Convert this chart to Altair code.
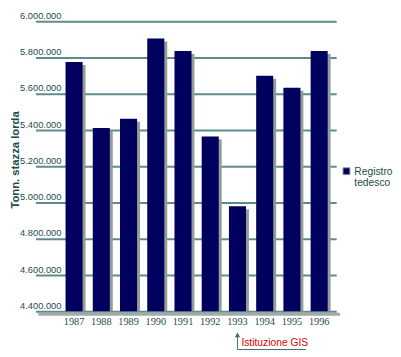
import altair as alt
import pandas as pd

years = ["1987", "1988", "1989", "1990", "1991", "1992", "1993", "1994", "1995", "1996"]
values = [5775000, 5412000, 5462000, 5905000, 5836000, 5365000, 4980000, 5700000, 5633000, 5836000]
series = ["Registro tedesco"]
y_ticks = [4400000, 4600000, 4800000, 5000000, 5200000, 5400000, 5600000, 5800000, 6000000]
annot_year = ["1993"]
annot_text = ["Istituzione GIS"]

NAVY = "#00005e"
TEAL = "#5e8c8c"
TXT = "#1c4c4c"

df = pd.DataFrame({"year": years, "value": values, "series": series[0]})
ann = pd.DataFrame({"year": annot_year, "label": annot_text})
leg = pd.DataFrame({"series": series})

xscale = alt.Scale(domain=years, paddingInner=0.374, paddingOuter=0.709, align=0.78)
yscale = alt.Scale(domain=[y_ticks[0], y_ticks[-1]], zero=False, nice=False)

x_axis = alt.Axis(domain=False, ticks=False, labelAngle=0, labelFont="Liberation Serif",
                  labelFontSize=10.5, labelColor=TXT, labelPadding=5)
y_axis = alt.Axis(values=y_ticks, tickCount=len(y_ticks), domain=False, ticks=False, grid=True,
                  gridColor=TEAL, gridWidth=2, gridOpacity=1, labelOverlap=False,
                  labelExpr="replace(format(datum.value, ','), regexp(',', 'g'), '.')",
                  labelAlign="right", labelBaseline="alphabetic", labelPadding=-26,
                  labelOffset=-3, labelFont="Liberation Sans", labelFontSize=9.5,
                  labelColor=TXT, titleFont="Liberation Sans", titleFontSize=11.5,
                  titleFontWeight="bold", titleColor=TXT, titleAngle=270,
                  titleX=-17, titleY=141, titleAlign="center", titleBaseline="alphabetic")

x_enc = alt.X("year:O", scale=xscale, title=None, axis=x_axis)
y_enc = alt.Y("value:Q", scale=yscale, title="Tonn. stazza lorda", axis=y_axis)

base = alt.Chart(df)

shadow = base.mark_bar(color="#939d98", xOffset=3, yOffset=3).encode(
    x=x_enc, y=y_enc, y2=alt.datum(y_ticks[0]),
)

floor = alt.Chart(ann).mark_rule(color="#a3aaa6", strokeWidth=3, yOffset=3).encode(
    y=alt.datum(y_ticks[0]), x=alt.value(3), x2=alt.value(311)
)

bars = base.mark_bar(color=NAVY).encode(
    x=x_enc, y=y_enc, y2=alt.datum(y_ticks[0]),
)

arrow_line = alt.Chart(ann).mark_rule(color="#3f6f6f", strokeWidth=1).encode(
    x=x_enc, y=alt.value(319), y2=alt.value(335)
)
arrow_base = alt.Chart(ann).mark_rule(color="#3f6f6f", strokeWidth=1).encode(
    x=x_enc, x2=alt.value(276), y=alt.value(335)
)
arrow_head = alt.Chart(ann).mark_point(shape="triangle-up", filled=True, color="#3f6f6f",
                                       size=30, opacity=1).encode(
    x=x_enc, y=alt.value(320)
)
arrow_text = alt.Chart(ann).mark_text(align="left", baseline="middle", dx=4, color="#e00000",
                                      font="Liberation Sans", fontSize=10.5).encode(
    x=x_enc, y=alt.value(328.7), text="label:N"
)

leg_sym = alt.Chart(leg).mark_square(size=49, fill=NAVY, stroke="#8a9590", strokeWidth=1,
                                     opacity=1).encode(
    x=alt.value(317.5), y=alt.value(153)
)
leg_text = alt.Chart(leg).mark_text(align="left", baseline="alphabetic", lineBreak=" ",
                                    lineHeight=12, color=TXT, font="Liberation Sans",
                                    fontSize=10.5).encode(
    x=alt.value(325.5), y=alt.value(156.5), text="series:N"
)

chart = alt.layer(shadow, floor, bars, arrow_line, arrow_base, arrow_head, arrow_text,
                  leg_sym, leg_text).properties(
    width=307, height=296,
    autosize=alt.AutoSizeParams(type="none"),
    padding={"left": 28, "top": 10, "right": 58, "bottom": 41},
    background="white",
).configure_view(stroke=None)

chart.save("out.html", embed_options={"renderer": "svg", "actions": False})
